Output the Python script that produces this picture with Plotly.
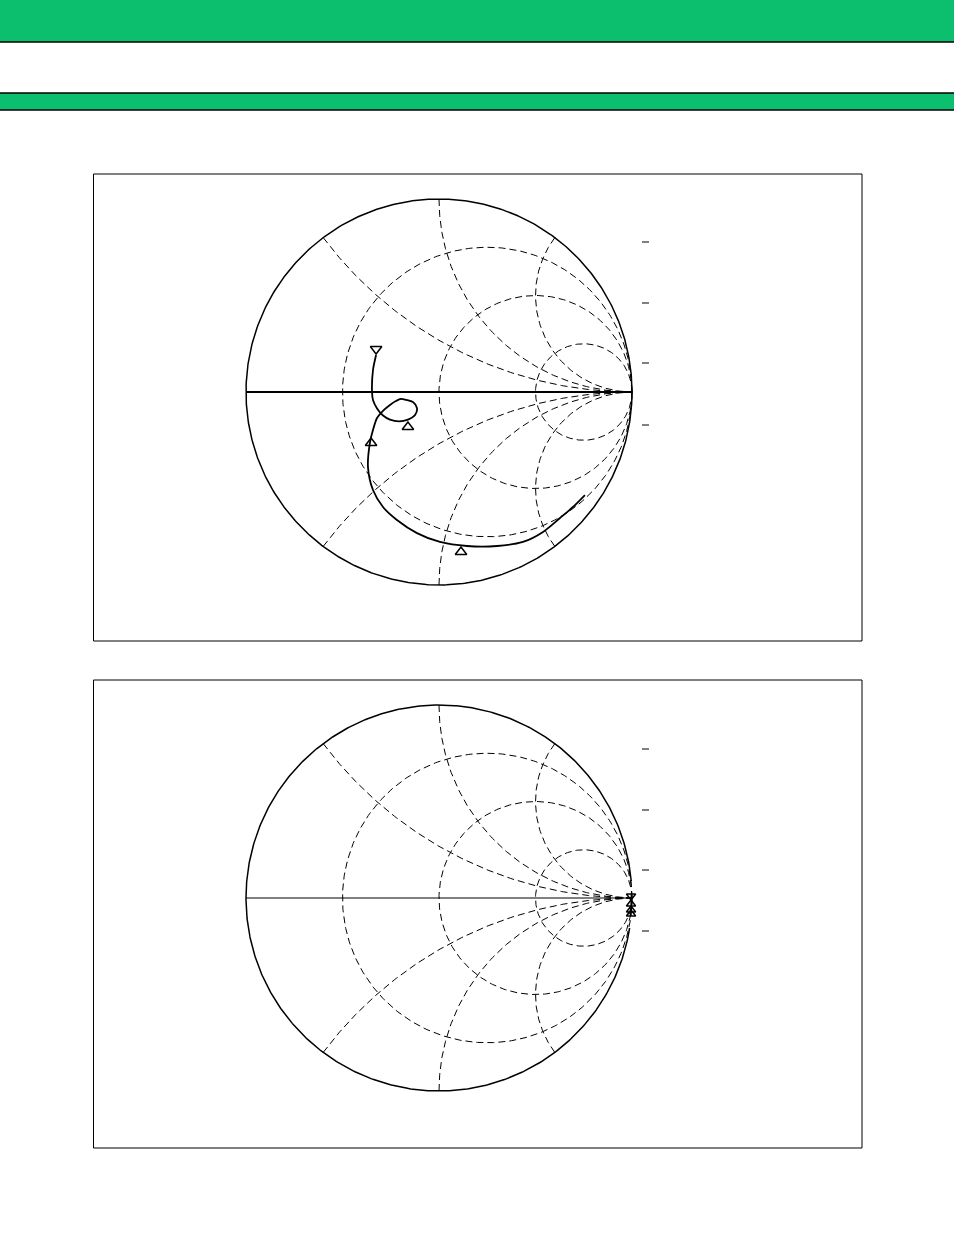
import numpy as np
import plotly.graph_objects as go

W, H = 954, 1235

# ---- Smith chart grid values ----
r_circles = [1/3, 1.0, 3.0]          # constant-resistance circles
x_arcs = [0.5, 1.0, 2.0]             # constant-reactance arcs (+/-)

# ---- Chart 1: reflection coefficient trace (real, imag) ----
s1_re = [-0.326, -0.342, -0.347, -0.342, -0.321, -0.290, -0.254, -0.207, -0.161,
         -0.124, -0.114, -0.135, -0.171, -0.197, -0.223, -0.254, -0.285,
         -0.321, -0.342, -0.358, -0.368, -0.342, -0.290, -0.218, -0.114, 0.005,
         0.145, 0.301, 0.435, 0.539, 0.627, 0.694, 0.756]
s1_im = [0.192, 0.114, 0.000, -0.041, -0.085, -0.122, -0.143, -0.152, -0.143,
         -0.119, -0.083, -0.052, -0.041, -0.036, -0.047, -0.067, -0.093,
         -0.135, -0.197, -0.264, -0.389, -0.508, -0.596, -0.663, -0.731, -0.777,
         -0.798, -0.798, -0.777, -0.725, -0.653, -0.596, -0.534]
m1_re = [-0.326, -0.161, -0.352, 0.114]
m1_im = [0.223, -0.181, -0.264, -0.829]
m1_sym = ["triangle-down-open", "triangle-up-open", "triangle-up-open", "triangle-up-open"]

# ---- Chart 2: reflection coefficient trace (real, imag) ----
s2_re = [0.997, 0.996, 0.995, 0.994]
s2_im = [0.020, -0.030, -0.060, -0.090]
m2_re = [0.995, 0.995, 0.995, 0.995]
m2_im = [0.010, -0.031, -0.062, -0.083]
m2_sym = ["triangle-down-open", "triangle-up-open", "triangle-up-open", "triangle-up-open"]

GREEN = "#0CBF6F"
R_PX = 193.0
RNG = 1.1


def px_x(px):
    return px / W


def px_y(py):
    return 1 - py / H


fig = go.Figure()


def axis_domains(cx, cy):
    half = R_PX * RNG
    xd = [px_x(cx - half), px_x(cx + half)]
    yd = [px_y(cy + half), px_y(cy - half)]
    return xd, yd


def add_grid(xa, ya, axis_lw, gap=None):
    dash = dict(color="black", width=1, dash="7px,4px")
    t = np.linspace(0, 2 * np.pi, 400)
    for r in r_circles:
        c = r / (1 + r)
        rad = 1 / (1 + r)
        fig.add_trace(go.Scatter(x=c + rad * np.cos(t), y=rad * np.sin(t), mode="lines",
                                 line=dash, hoverinfo="skip", xaxis=xa, yaxis=ya))
    rr = np.concatenate([[0.0], np.logspace(-3, 3.5, 500)])
    for xv in x_arcs:
        for s in (1, -1):
            z = rr + 1j * s * xv
            g = (z - 1) / (z + 1)
            fig.add_trace(go.Scatter(x=g.real, y=g.imag, mode="lines", line=dash,
                                     hoverinfo="skip", xaxis=xa, yaxis=ya))
    # real axis
    fig.add_trace(go.Scatter(x=[-1, 1], y=[0, 0], mode="lines",
                             line=dict(color="black", width=axis_lw),
                             hoverinfo="skip", xaxis=xa, yaxis=ya))
    # outer circle
    if gap is None:
        th = np.linspace(0, 2 * np.pi, 600)
    else:
        a0, a1 = gap
        th = np.linspace(a0, a1, 600)
    fig.add_trace(go.Scatter(x=np.cos(th), y=np.sin(th), mode="lines",
                             line=dict(color="black", width=1.5),
                             hoverinfo="skip", xaxis=xa, yaxis=ya))


# Chart 1
add_grid("x", "y", 2)
fig.add_trace(go.Scatter(x=s1_re, y=s1_im, mode="lines",
                         line=dict(color="black", width=1.8, shape="spline", smoothing=0.8),
                         xaxis="x", yaxis="y"))
fig.add_trace(go.Scatter(x=m1_re, y=m1_im, mode="markers", cliponaxis=False,
                         marker=dict(symbol=m1_sym, size=10, color="black", line=dict(width=1.5, color="black")),
                         xaxis="x", yaxis="y"))

# Chart 2 (outer circle has a gap where the trace sits)
g_top = np.arcsin((898 - 881) / R_PX)
g_bot = np.arcsin((898 - 928) / R_PX)
add_grid("x2", "y2", 1, gap=(g_top, g_bot + 2 * np.pi))
fig.add_trace(go.Scatter(x=s2_re, y=s2_im, mode="lines", line=dict(color="black", width=1.5),
                         xaxis="x2", yaxis="y2", cliponaxis=False))
fig.add_trace(go.Scatter(x=m2_re, y=m2_im, mode="markers", cliponaxis=False,
                         marker=dict(symbol=m2_sym, size=8, color="black", line=dict(width=1.5, color="black")),
                         xaxis="x2", yaxis="y2"))

xd1, yd1 = axis_domains(439, 392)
xd2, yd2 = axis_domains(439, 898)
ax_common = dict(range=[-RNG, RNG], visible=False, showgrid=False, zeroline=False, fixedrange=True)

shapes = []
# header bars
shapes.append(dict(type="rect", xref="paper", yref="paper", x0=0, x1=1, y0=px_y(42), y1=1,
                   fillcolor=GREEN, line=dict(width=0), layer="below"))
shapes.append(dict(type="line", xref="paper", yref="paper", x0=0, x1=1, y0=px_y(42), y1=px_y(42),
                   line=dict(color="black", width=1.5)))
shapes.append(dict(type="rect", xref="paper", yref="paper", x0=0, x1=1, y0=px_y(110), y1=px_y(93),
                   fillcolor=GREEN, line=dict(width=0), layer="below"))
for yy in (93, 110):
    shapes.append(dict(type="line", xref="paper", yref="paper", x0=0, x1=1, y0=px_y(yy), y1=px_y(yy),
                       line=dict(color="black", width=1.5)))
# chart frames
for (t, b) in ((174, 641), (680, 1148)):
    shapes.append(dict(type="rect", xref="paper", yref="paper", x0=px_x(93.5), x1=px_x(862),
                       y0=px_y(b), y1=px_y(t), line=dict(color="black", width=1)))
# legend tick marks (right side)
for yy in (242, 303, 363, 425, 749, 810, 870, 931):
    shapes.append(dict(type="line", xref="paper", yref="paper", x0=px_x(642), x1=px_x(649),
                       y0=px_y(yy), y1=px_y(yy), line=dict(color="black", width=1)))

fig.update_layout(
    width=W, height=H, autosize=False,
    margin=dict(l=0, r=0, t=0, b=0),
    paper_bgcolor="white", plot_bgcolor="rgba(0,0,0,0)",
    showlegend=False,
    xaxis=dict(domain=xd1, anchor="y", **ax_common),
    yaxis=dict(domain=yd1, anchor="x", **ax_common),
    xaxis2=dict(domain=xd2, anchor="y2", **ax_common),
    yaxis2=dict(domain=yd2, anchor="x2", **ax_common),
    shapes=shapes,
)

fig.write_html("out.html", config={"displayModeBar": False},
               post_script="document.body.style.margin='0';document.body.style.overflow='hidden';")
